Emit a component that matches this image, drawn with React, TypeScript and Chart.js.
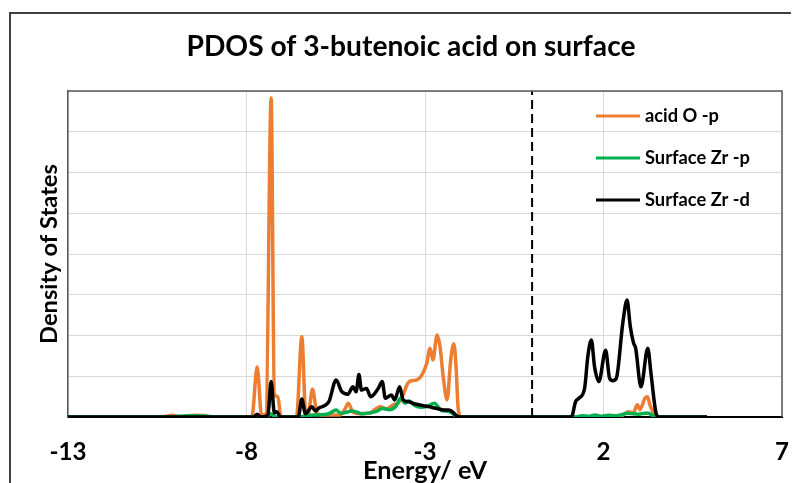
import React, { useEffect, useRef } from "react";
import { Chart, registerables } from "chart.js";

Chart.register(...registerables);

const FONT = "Lato, 'Open Sans', 'DejaVu Sans', sans-serif";

const TITLE = "PDOS of 3-butenoic acid on surface";
const X_TITLE = "Energy/ eV";
const Y_TITLE = "Density of States";
const SERIES_NAMES = ["acid O -p", "Surface Zr -p", "Surface Zr -d"];
const SERIES_COLORS = ["#ED7D31", "#00B050", "#000000"];
const X_TICKS = [-13, -8, -3, 2, 7];
const FERMI_LEVEL = 0;

// acid O -p
const orangeE = [-13, -10.42, -10.06, -9.86, -9.64, -9.39, -9.16, -8.97, -7.85, -7.7, -7.58, -7.45, -7.31, -7.22, -7.12, -7.05, -6.98, -6.6, -6.45, -6.34, -6.28, -6.15, -6.03, -5.94, -5.38, -5.24, -5.15, -5.02, -4.82, -4.54, -4.26, -4.07, -3.89, -3.75, -3.61, -3.5, -3.42, -3.23, -3.09, -2.95, -2.86, -2.78, -2.66, -2.58, -2.49, -2.38, -2.28, -2.19, -2.13, -2.07, -1.99, 2.41, 2.55, 2.7, 2.83, 2.95, 3.02, 3.16, 3.23, 3.3, 3.44, 3.53, 4.9];
const orangeY = [0, 0, 0.04, 0, 0.03, 0.04, 0.03, 0, 0, 1.23, 0.05, 0.08, 7.83, 0.55, 0.5, 0.05, 0, 0, 1.97, 0.05, 0.05, 0.68, 0.1, 0.05, 0.05, 0.2, 0.34, 0.12, 0.08, 0.1, 0.25, 0.2, 0.3, 0.34, 0.55, 0.8, 0.88, 0.91, 1.03, 1.32, 1.69, 1.4, 2.01, 1.73, 0.99, 0.42, 1.4, 1.8, 1.23, 0.2, 0, 0, 0.05, 0.13, 0.1, 0.3, 0.18, 0.46, 0.5, 0.3, 0.05, 0, 0];

// Surface Zr -p
const greenE = [-13, -10.1, -9.9, -9.5, -9.1, -8.9, -7.45, -7.32, -7.2, -6.5, -6.3, -6.0, -5.7, -5.49, -5.35, -5.03, -4.75, -4.38, -4.19, -4.0, -3.81, -3.69, -3.56, -3.44, -3.3, -3.11, -2.93, -2.74, -2.55, -2.31, -2.12, -2.0, 1.2, 1.4, 1.6, 1.75, 1.95, 2.13, 2.35, 2.68, 2.97, 3.23, 3.47, 4.9];
const greenY = [0, 0, 0.02, 0.03, 0.02, 0, 0, 0.08, 0, 0, 0.04, 0.05, 0.08, 0.17, 0.09, 0.15, 0.08, 0.13, 0.21, 0.18, 0.27, 0.46, 0.34, 0.39, 0.29, 0.24, 0.27, 0.34, 0.17, 0.13, 0.02, 0, 0, 0.03, 0.02, 0.05, 0.02, 0.04, 0.03, 0.09, 0.07, 0.1, 0, 0];

// Surface Zr -d
const blackE = [-13, -7.8, -7.7, -7.6, -7.4, -7.31, -7.22, -7.15, -7.05, -6.55, -6.45, -6.35, -6.17, -6.07, -5.97, -5.69, -5.49, -5.33, -5.16, -5.02, -4.93, -4.85, -4.78, -4.64, -4.52, -4.31, -4.2, -4.11, -3.94, -3.85, -3.71, -3.61, -3.48, -3.27, -3.01, -2.82, -2.59, -2.47, -2.34, -2.22, -2.12, -2.0, 1.1, 1.22, 1.31, 1.47, 1.56, 1.66, 1.75, 1.87, 2.06, 2.17, 2.26, 2.36, 2.54, 2.66, 2.75, 2.84, 2.9, 3.05, 3.24, 3.33, 3.47, 3.55, 4.9];
const blackY = [0, 0, 0.07, 0, 0.05, 0.87, 0.1, 0.13, 0, 0, 0.44, 0.08, 0.25, 0.15, 0.22, 0.38, 0.91, 0.62, 0.56, 0.74, 0.62, 1.04, 0.66, 0.7, 0.5, 0.7, 0.87, 0.46, 0.54, 0.42, 0.74, 0.42, 0.38, 0.32, 0.27, 0.24, 0.19, 0.17, 0.17, 0.12, 0.03, 0, 0, 0.38, 0.46, 0.7, 1.48, 1.89, 1.23, 0.87, 1.64, 0.95, 0.89, 0.95, 2.3, 2.87, 2.22, 1.82, 1.69, 0.74, 1.69, 1.07, 0.1, 0, 0];

const Y_MIN = 0;
const Y_MAX = 8;

const pts = (xs: number[], ys: number[]) => xs.map((x, i) => ({ x, y: ys[i] }));

function fitSize(text: string, target: number): number {
  const c = document.createElement("canvas").getContext("2d");
  if (!c) return 20;
  c.font = `bold 40px ${FONT}`;
  const w = c.measureText(text).width;
  return Math.round((40 * target / w) * 10) / 10;
}

export default function App() {
  const ref = useRef<HTMLCanvasElement | null>(null);

  useEffect(() => {
    if (!ref.current) return;
    document.documentElement.style.overflow = "hidden";
    document.body.style.overflow = "hidden";
    const titleSize = fitSize(TITLE, 450);
    const yTitleSize = fitSize(Y_TITLE, 180);
    const xTitleSize = fitSize(X_TITLE, 124);
    const tickSize = fitSize("-13", 37);
    const legendSize = fitSize("Surface Zr -d", 105);

    const decor = {
      id: "decor",
      beforeDraw(chart: any) {
        const ctx = chart.ctx;
        ctx.save();
        ctx.fillStyle = "#ffffff";
        ctx.fillRect(0, 0, chart.width, chart.height);
        ctx.strokeStyle = "#404040";
        ctx.lineWidth = 2;
        ctx.beginPath();
        ctx.moveTo(2, chart.height + 5);
        ctx.lineTo(2, 5);
        ctx.lineTo(chart.width + 5, 5);
        ctx.stroke();
        ctx.fillStyle = "#000";
        ctx.font = `bold ${titleSize}px ${FONT}`;
        ctx.textAlign = "center";
        ctx.textBaseline = "middle";
        ctx.fillText(TITLE, 403, 39);
        ctx.restore();
      },
      afterDraw(chart: any) {
        const ctx = chart.ctx;
        const a = chart.chartArea;
        ctx.save();
        ctx.strokeStyle = "#595959";
        ctx.lineWidth = 1.5;
        ctx.beginPath();
        ctx.moveTo(a.left, a.top);
        ctx.lineTo(a.right, a.top);
        ctx.lineTo(a.right, a.bottom);
        ctx.stroke();
        ctx.font = `bold ${legendSize}px ${FONT}`;
        ctx.textAlign = "left";
        ctx.textBaseline = "middle";
        for (let i = 0; i < SERIES_NAMES.length; i++) {
          const ds = chart.data.datasets[i];
          const y = 108 + 42 * i;
          ctx.strokeStyle = ds.borderColor;
          ctx.lineWidth = 3;
          ctx.beginPath();
          ctx.moveTo(588, y);
          ctx.lineTo(632, y);
          ctx.stroke();
          ctx.fillStyle = "#000";
          ctx.fillText(ds.label, 637, y);
        }
        ctx.restore();
      },
    };

    const lineDs = (i: number, xs: number[], ys: number[], order: number) => ({
      label: SERIES_NAMES[i],
      data: pts(xs, ys),
      borderColor: SERIES_COLORS[i],
      backgroundColor: SERIES_COLORS[i],
      borderWidth: 3.5,
      pointRadius: 0,
      fill: false,
      cubicInterpolationMode: "monotone" as const,
      order,
    });

    const chart = new Chart(ref.current, {
      type: "line",
      data: {
        datasets: [
          lineDs(0, orangeE, orangeY, 3),
          lineDs(1, greenE, greenY, 2),
          lineDs(2, blackE, blackY, 1),
          {
            label: "Fermi",
            data: [{ x: FERMI_LEVEL, y: Y_MIN }, { x: FERMI_LEVEL, y: Y_MAX }],
            borderColor: "#000",
            borderWidth: 2,
            borderDash: [9, 5],
            pointRadius: 0,
            fill: false,
            order: 0,
          } as any,
        ],
      },
      options: {
        responsive: true,
        maintainAspectRatio: false,
        animation: false,
        layout: { padding: { top: 83, right: 17, left: 0, bottom: 0 } },
        plugins: {
          legend: { display: false },
          tooltip: { enabled: false },
          title: { display: false },
        },
        scales: {
          x: {
            type: "linear",
            min: X_TICKS[0],
            max: X_TICKS[X_TICKS.length - 1],
            afterBuildTicks: (s: any) => {
              s.ticks = X_TICKS.map((v) => ({ value: v }));
            },
            ticks: {
              font: { family: FONT, size: tickSize, weight: "bold" },
              color: "#000",
              padding: 21,
              maxRotation: 0,
              autoSkip: false,
            },
            grid: { color: "#D9D9D9", lineWidth: 1, drawTicks: false },
            border: { display: true, color: "#000", width: 2 },
            title: {
              display: true,
              text: X_TITLE,
              color: "#000",
              font: { family: FONT, size: xTitleSize, weight: "bold", lineHeight: 1 },
              padding: { top: 0, bottom: 0 },
            },
            afterFit: (s: any) => {
              s.height = 66;
              s.paddingLeft = 0;
              s.paddingRight = 0;
            },
          },
          y: {
            min: Y_MIN,
            max: Y_MAX,
            ticks: { display: false, stepSize: 1 },
            grid: { color: "#D9D9D9", lineWidth: 1, drawTicks: false },
            border: { display: true, color: "#595959", width: 1.5 },
            title: {
              display: true,
              text: Y_TITLE,
              color: "#000",
              font: { family: FONT, size: yTitleSize, weight: "bold", lineHeight: 1 },
              padding: { top: 30, bottom: 0 },
            },
            afterFit: (s: any) => {
              s.width = 60;
              s.paddingTop = 0;
              s.paddingBottom = 0;
            },
          },
        },
      } as any,
      plugins: [decor],
    });
    return () => chart.destroy();
  }, []);

  return (
    <div style={{ width: 791, height: 475, position: "relative" }}>
      <canvas ref={ref} />
    </div>
  );
}
